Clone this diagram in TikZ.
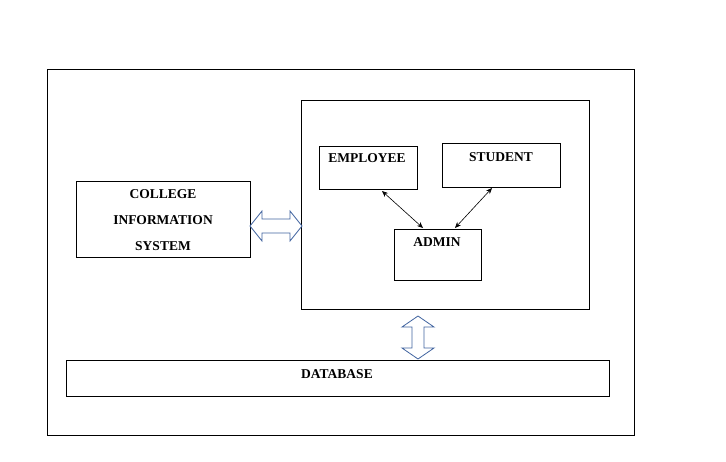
\documentclass[tikz,border=0pt]{standalone}
\usepackage{fontspec}
\setmainfont{Liberation Serif}
\usetikzlibrary{arrows.meta}
\definecolor{arr}{RGB}{65,100,160}
\begin{document}
\begin{tikzpicture}[x=1pt,y=-1pt,
  box/.style={draw,line width=0.8pt,inner sep=0},
  lbl/.style={font=\bfseries\fontsize{13.5}{16}\selectfont,align=center},
  dbl/.style={draw=arr,fill=white,line width=0.8pt,line join=miter},
  link/.style={{Stealth[length=6pt,width=5pt]}-{Stealth[length=6pt,width=5pt]},line width=0.6pt}]
\useasboundingbox (0,0) rectangle (726,461);
\draw[box] (47,69) rectangle (634,435);
\draw[box] (301,100) rectangle (589,309);
\node[box,minimum width=98,minimum height=43,anchor=north west] (emp) at (319,146) {};
\node[lbl] at (367,158) {EMPLOYEE};
\node[box,minimum width=118,minimum height=44,anchor=north west] (stu) at (442,143) {};
\node[lbl] at (501,157) {STUDENT};
\node[box,minimum width=87,minimum height=51,anchor=north west] (adm) at (394,229) {};
\node[lbl] at (437,242) {ADMIN};
\node[box,minimum width=174,minimum height=76,anchor=north west] (cis) at (76,181) {};
\node[lbl,font=\bfseries\fontsize{13.5}{26}\selectfont] at (163,220) {COLLEGE\\INFORMATION\\SYSTEM};
\node[box,minimum width=543,minimum height=36,anchor=north west] (db) at (66,360) {};
\node[lbl] at (337,374) {DATABASE};
\draw[link] (382,191) -- (423,228);
\draw[link] (492,188) -- (455,228);
% horizontal double arrow
\draw[dbl] (250,226) -- (262,211) -- (262,219) -- (290,219) -- (290,211) -- (302,226)
  -- (290,241) -- (290,233) -- (262,233) -- (262,241) -- cycle;
% vertical double arrow
\draw[dbl] (418,316) -- (434,327) -- (424,327) -- (424,348) -- (434,348) -- (418,359)
  -- (402,348) -- (412,348) -- (412,327) -- (402,327) -- cycle;
\end{tikzpicture}
\end{document}
